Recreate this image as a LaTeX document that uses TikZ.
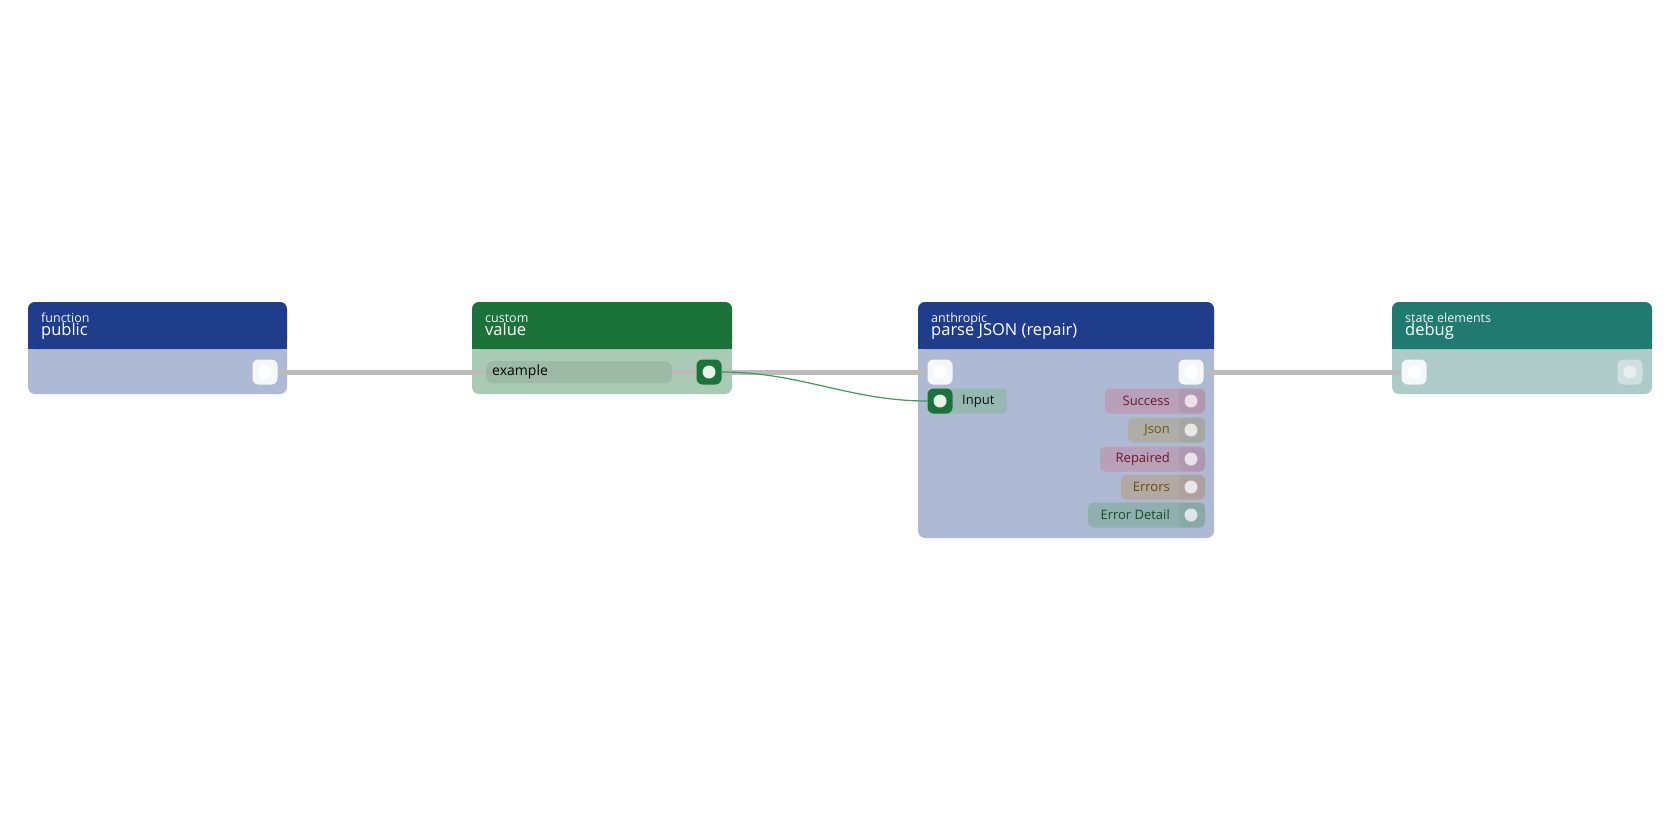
\documentclass[tikz,border=0pt]{standalone}
\usepackage{fontspec}
\setmainfont{Open Sans}
\usetikzlibrary{calc,positioning}
\definecolor{hblue}{HTML}{1F3D8A}
\definecolor{bblue}{HTML}{AEB9D4}
\definecolor{hgreen}{HTML}{1B7339}
\definecolor{bgreen}{HTML}{A9CBB6}
\definecolor{hteal}{HTML}{217A70}
\definecolor{bteal}{HTML}{AECBCA}
\definecolor{wire}{HTML}{BBBBBB}
\definecolor{gwire}{HTML}{3C9A5A}
\definecolor{fieldc}{HTML}{9AB8A3}
\tikzset{
  box/.style={rounded corners=7pt,inner sep=0pt,anchor=north west},
  port/.style={draw=none,fill=white!88!bblue,rounded corners=6pt,minimum size=25pt,inner sep=0pt,
    path picture={\fill[white] (path picture bounding box.center) circle (6.5pt);}},
  dot/.style={circle,fill=white!75!gray,minimum size=13pt,inner sep=0pt},
  pill/.style={rounded corners=5pt,minimum height=25pt,inner sep=0pt,font=\fontsize{13}{13}\selectfont},
  cat/.style={anchor=base west,text=white!85!bblue,font=\fontsize{12.5}{12}\selectfont,inner sep=0pt},
  title/.style={anchor=base west,text=white,font=\fontsize{16.5}{16}\selectfont,inner sep=0pt},
}
% a node card: name, x, y, width, height, header, body, category, title
\newcommand{\card}[9]{
  \fill[#7,rounded corners=7pt] (#2,#3) rectangle ++(#4,#5);
  \fill[#6,rounded corners=7pt] (#2,#3) rectangle ++(#4,47);
  \fill[#6] (#2,#3+40) rectangle ++(#4,7);
  \node[cat] (#1cat) at (#2+13,#3+20) {#8};
  \node[title] (#1) at (#2+13,#3+33) {#9};
}
\begin{document}
\begin{tikzpicture}[x=1pt,y=-1pt]
\useasboundingbox (0,0) rectangle (1680,840);
\fill[white] (0,0) rectangle (1680,840);
\card{pub}{28}{302}{259}{92}{hblue}{bblue}{function}{public}
\card{val}{472}{302}{260}{92}{hgreen}{bgreen}{custom}{value}
\card{json}{918}{302}{296}{236}{hblue}{bblue}{anthropic}{parse JSON (repair)}
\card{dbg}{1392}{302}{260}{92}{hteal}{bteal}{state elements}{debug}
% the ports
\node[port] (pubout) at (265,372) {};
\node[port] (jsonin) at (940,372) {};
\node[port] (jsonout) at (1191,372) {};
\node[port] (dbgin) at (1414,372) {};
\node[port,fill=white!40!bteal,path picture={\fill[white!70!bteal] (path picture bounding box.center) circle (6.5pt);}] (dbgout) at (1630,372) {};
% wires under the value field
\draw[wire,line width=5pt] (pubout) -- (jsonin);
\draw[wire,line width=5pt] (jsonout) -- (dbgin);
\node[box,fill=fieldc,opacity=0.85,minimum width=186pt,minimum height=22pt] (field) at (486,361) {};
\node[anchor=west,inner sep=0pt,font=\fontsize{14}{14}\selectfont] (fieldtxt) at (492,372) {example};
\node[port,fill=hgreen,path picture={\fill[white!90!hgreen] (path picture bounding box.center) circle (6.5pt);}] (valout) at (709,372) {};
% input socket
\node[pill,fill=black!5!bteal!75!bblue!80!hgreen!90!white,anchor=west,minimum width=79pt] (inpill) at (928,401) {};
\node[anchor=west,inner sep=0pt,text=black!80!hgreen,font=\fontsize{13}{13}\selectfont] (intxt) at (962,401) {Input};
\node[port,fill=hgreen,path picture={\fill[white!90!hgreen] (path picture bounding box.center) circle (6.5pt);}] (jsonx) at (940,401) {};
\draw[gwire,line width=1.2pt] (valout.east) .. controls (800,372) and (850,401) .. (jsonx.west);
% outputs
\foreach \nm/\lbl/\xl/\yy/\pc/\tc in {succ/Success/1105/401/B8A0B8/6B1A2A,
    js/Json/1128/430/AEAEA8/6B5A10, rep/Repaired/1100/459/B8A0B8/6B1A2A,
    err/Errors/1121/487/B2A8A4/6B4A10, det/Error Detail/1088/515/8FB0AE/1A4A2A}{
  \definecolor{pc}{HTML}{\pc}\definecolor{tc}{HTML}{\tc}
  \fill[pc,rounded corners=5pt] (\xl,\yy-12.5) rectangle (1205,\yy+12.5);
  \fill[pc!85!black,opacity=0.25,rounded corners=5pt] (1179,\yy-12.5) rectangle (1205,\yy+12.5);
  \node[dot,fill=white!70!pc] (\nm) at (1191,\yy) {};
  \node[anchor=east,inner sep=0pt,text=tc,font=\fontsize{13}{13}\selectfont] (\nm txt) at (1170,\yy) {\lbl};
}
\end{tikzpicture}
\end{document}
